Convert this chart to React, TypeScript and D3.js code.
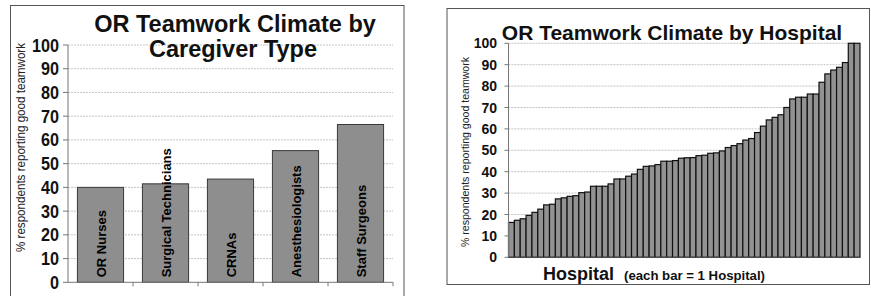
import React from "react";
import * as d3 from "d3";

const caregiverTypes = ["OR Nurses", "Surgical Technicians", "CRNAs", "Anesthesiologists", "Staff Surgeons"];
const caregiverValues = [40, 41.5, 43.5, 55.5, 66.5];

const hospitalValues = [
  16.3, 17.3, 18, 19.6, 21, 22.5, 24.5, 24.8, 27.3, 27.8, 28.5, 28.8, 30.2, 30.5, 33.2, 33.2, 33.2, 34.3,
  36.6, 36.6, 37.9, 38.9, 41.1, 42.5, 42.7, 43.3, 44.9, 44.9, 45.2, 46.3, 46.5, 46.6, 47.5, 47.7, 48.6, 48.8,
  49.7, 51.3, 52.2, 53.1, 54.8, 55.5, 58.3, 61.3, 64.2, 65.4, 66.6, 70, 74, 74.8, 74.8, 76.3, 76.3, 81.8,
  85.7, 87.5, 88.8, 91, 100, 100,
];

const yTicks = [0, 10, 20, 30, 40, 50, 60, 70, 80, 90, 100];
const leftTitle = ["OR Teamwork Climate by", "Caregiver Type"];
const rightTitle = "OR Teamwork Climate by Hospital";
const yAxisTitle = "% respondents reporting good teamwork";
const xTitleMain = "Hospital";
const xTitleSub = "(each bar = 1 Hospital)";

const FONT = "'Liberation Sans', Arial, Helvetica, sans-serif";

function LeftChart() {
  const x0 = 68, x1 = 393, yTop = 45, yBot = 282.3;
  const x = d3.scaleBand<string>().domain(caregiverTypes).range([x0, x1]).paddingInner(0.29).paddingOuter(0.145);
  const y = d3.scaleLinear().domain([0, 100]).range([yBot, yTop]);
  const step = x.step();
  return (
    <g>
      <rect x={10.5} y={5.5} width={393.5} height={291} fill="#fff" stroke="#555" strokeWidth={1} />
      {yTicks.filter((t) => t > 0).map((t) => (
        <line key={"g" + t} x1={x0} x2={x1} y1={y(t)} y2={y(t)} stroke="#c4c4c4" strokeWidth={1} strokeDasharray="2,1" />
      ))}
      {caregiverTypes.map((c, i) => (
        <rect key={c} x={x(c)} y={y(caregiverValues[i])} width={x.bandwidth()} height={yBot - y(caregiverValues[i])}
          fill="#8e8e8e" stroke="#3a3a3a" strokeWidth={1} />
      ))}
      {caregiverTypes.map((c) => {
        const cx = (x(c) as number) + x.bandwidth() / 2;
        return (
          <text key={"l" + c} transform={`translate(${cx + 5},${yBot - 5}) rotate(-90)`} fontFamily={FONT}
            fontWeight="bold" fontSize={13} fill="#000">{c}</text>
        );
      })}
      <line x1={x0} x2={x0} y1={yTop} y2={yBot} stroke="#777" />
      <line x1={x0} x2={x1} y1={yBot} y2={yBot} stroke="#777" />
      {yTicks.map((t) => (
        <g key={"t" + t}>
          <line x1={x0 - 5} x2={x0} y1={y(t)} y2={y(t)} stroke="#777" />
          <text x={59} y={y(t) + 6.5} textAnchor="end" fontFamily={FONT} fontWeight="bold" fontSize={18}
            textLength={String(t).length * 9} lengthAdjust="spacingAndGlyphs" fill="#111">{t}</text>
        </g>
      ))}
      {caregiverTypes.map((c, i) => (
        <line key={"xt" + i} x1={x0 + step * (i + 1)} x2={x0 + step * (i + 1)} y1={yBot} y2={yBot + 4} stroke="#777" />
      ))}
      <text transform={`translate(25,147.5) rotate(-90)`} textAnchor="middle" fontFamily={FONT} fontSize={12}
        textLength={209} lengthAdjust="spacingAndGlyphs" fill="#222">{yAxisTitle}</text>
      <text x={235} y={32} textAnchor="middle" fontFamily={FONT} fontWeight="bold" fontSize={23.5} fill="#111">{leftTitle[0]}</text>
      <text x={233} y={57} textAnchor="middle" fontFamily={FONT} fontWeight="bold" fontSize={23.5} fill="#111">{leftTitle[1]}</text>
    </g>
  );
}

function RightChart() {
  const x0 = 508.5, x1 = 860, yTop = 43.3, yBot = 257.3;
  const idx = hospitalValues.map((_, i) => String(i));
  const x = d3.scaleBand<string>().domain(idx).range([x0, x1]).padding(0);
  const y = d3.scaleLinear().domain([0, 100]).range([yBot, yTop]);
  return (
    <g>
      <rect x={447} y={8.5} width={422.5} height={276} fill="#fff" stroke="#555" strokeWidth={1} />
      {yTicks.filter((t) => t > 0).map((t) => (
        <line key={"g" + t} x1={x0} x2={x1} y1={y(t)} y2={y(t)} stroke="#c4c4c4" strokeWidth={1} strokeDasharray="2,1" />
      ))}
      {hospitalValues.map((v, i) => (
        <rect key={i} x={x(String(i))} y={y(v)} width={x.bandwidth()} height={yBot - y(v)}
          fill="#929292" stroke="#111" strokeWidth={1.2} />
      ))}
      <line x1={x0} x2={x0} y1={yTop} y2={yBot} stroke="#777" />
      <line x1={x0} x2={x1} y1={yBot} y2={yBot} stroke="#555" />
      {yTicks.map((t) => (
        <g key={"t" + t}>
          <line x1={x0 - 4} x2={x0} y1={y(t)} y2={y(t)} stroke="#777" />
          <text x={497} y={y(t) + 5} textAnchor="end" fontFamily={FONT} fontWeight="bold" fontSize={14} fill="#111">{t}</text>
        </g>
      ))}
      <text transform={`translate(468.5,152) rotate(-90)`} textAnchor="middle" fontFamily={FONT} fontSize={10.5}
        textLength={190} lengthAdjust="spacingAndGlyphs" fill="#222">{yAxisTitle}</text>
      <text x={672} y={40} textAnchor="middle" fontFamily={FONT} fontWeight="bold" fontSize={21} fill="#111">{rightTitle}</text>
      <text x={543} y={280} fontFamily={FONT} fontWeight="bold" fontSize={18} fill="#111">{xTitleMain}</text>
      <text x={624} y={280} fontFamily={FONT} fontWeight="bold" fontSize={12} fill="#111"
        textLength={141} lengthAdjust="spacingAndGlyphs">{xTitleSub}</text>
    </g>
  );
}

export default function App() {
  return (
    <svg width={871} height={296} style={{ position: "absolute", left: 0, top: 0, background: "#fff" }}>
      <rect x={0} y={0} width={871} height={296} fill="#fff" />
      <LeftChart />
      <RightChart />
    </svg>
  );
}
